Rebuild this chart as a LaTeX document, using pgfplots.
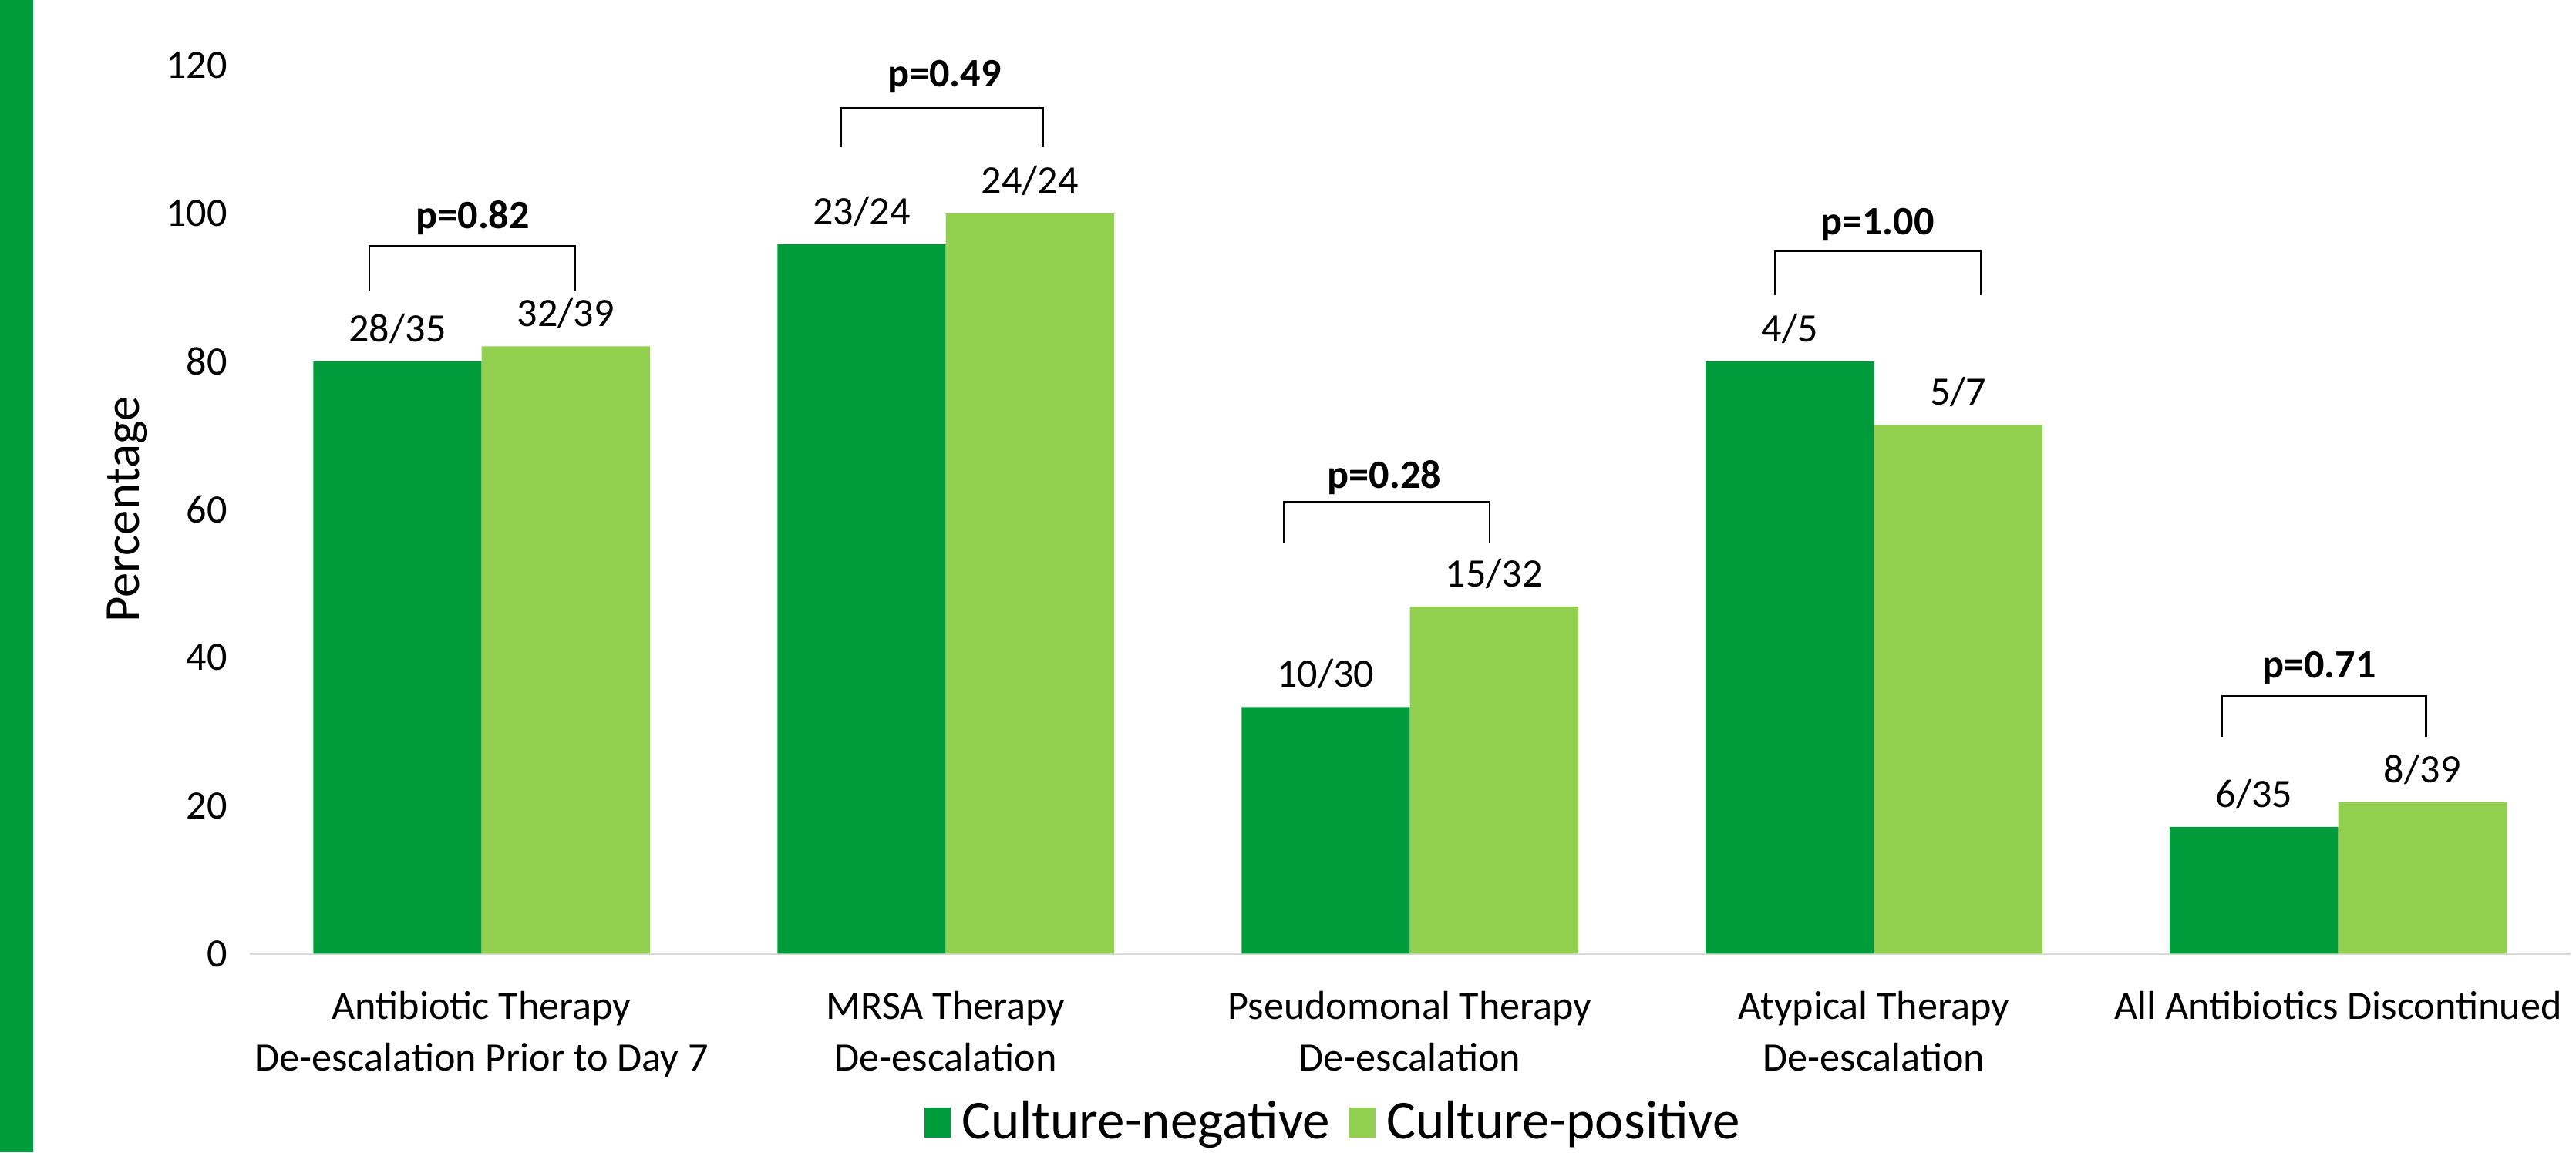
\documentclass[border=0pt]{standalone}
\usepackage{pgfplots}
\pgfplotsset{compat=1.18}
\usepackage{fontspec}
\setmainfont{Carlito}
\definecolor{darkg}{RGB}{0,156,59}
\definecolor{lightg}{RGB}{146,208,80}
\newcommand{\tfont}{\fontsize{12.5}{16}\selectfont}
\begin{document}
\begin{tikzpicture}
\fill[darkg] (0,0) rectangle (10.2pt,358pt);
\begin{axis}[
  at={(77.5pt,61.7pt)}, anchor=south west,
  scale only axis, width=720.7pt, height=276pt,
  xmin=-0.5, xmax=4.5, ymin=0, ymax=120,
  ybar=0pt, bar width=0.3627,
  axis line style={draw=none}, major tick style={draw=none},
  ytick={0,20,...,120},
  xtick={0,1,2,3,4},
  xticklabels={{Antibiotic Therapy\\De-escalation Prior to Day 7},{MRSA Therapy\\De-escalation},{Pseudomonal Therapy\\De-escalation},{Atypical Therapy\\De-escalation},{All Antibiotics Discontinued}},
  x tick label style={align=center, font=\tfont, yshift=-4pt},
  y tick label style={font=\tfont, xshift=-3.4pt},
  /pgf/number format/assume math mode=true,
  ylabel={Percentage},
  every axis y label/.style={at={(axis description cs:-0.0527,0.5)}, rotate=90, anchor=center, font=\fontsize{15.5}{18}\selectfont},
  nodes near coords, point meta=explicit symbolic,
  every node near coord/.append style={font=\tfont, text=black, yshift=2pt},
  clip=false,
  legend columns=2,
  legend style={at={(0.468,-0.19)}, anchor=center, draw=none, font=\fontsize{17}{19}\selectfont, /tikz/every even column/.append style={column sep=4pt}},
  legend image code/.code={\fill[#1] (0pt,-4.6pt) rectangle (8pt,4.6pt); \path (9.5pt,0pt);},
]
\draw[black!15, line width=0.6pt] (axis cs:-0.5,0) -- (axis cs:4.5,0);
\addplot[fill=darkg, draw=none] coordinates {(0,80) [28/35] (1,95.83) [23/24] (2,33.33) [10/30] (3,80) [4/5] (4,17.14) [6/35]};
\addlegendentry{Culture-negative}
\addplot[fill=lightg, draw=none] coordinates {(0,82.05) [32/39] (1,100) [24/24] (2,46.88) [15/32] (3,71.43) [5/7] (4,20.51) [8/39]};
\addlegendentry{Culture-positive}
\draw[black, line width=0.6pt] (axis cs:-0.242,89.6) -- (axis cs:-0.242,95.6) -- (axis cs:0.2006,95.6) -- (axis cs:0.2006,89.6);
\node[font=\bfseries\tfont] at (axis cs:-0.019,99.4) {p=0.82};
\draw[black, line width=0.6pt] (axis cs:0.774,108.9) -- (axis cs:0.774,114.2) -- (axis cs:1.209,114.2) -- (axis cs:1.209,108.9);
\node[font=\bfseries\tfont] at (axis cs:0.997,118.5) {p=0.49};
\draw[black, line width=0.6pt] (axis cs:1.729,55.5) -- (axis cs:1.729,61.0) -- (axis cs:2.172,61.0) -- (axis cs:2.172,55.5);
\node[font=\bfseries\tfont] at (axis cs:1.945,64.3) {p=0.28};
\draw[black, line width=0.6pt] (axis cs:2.787,89.0) -- (axis cs:2.787,94.9) -- (axis cs:3.230,94.9) -- (axis cs:3.230,89.0);
\node[font=\bfseries\tfont] at (axis cs:3.007,98.5) {p=1.00};
\draw[black, line width=0.6pt] (axis cs:3.750,29.3) -- (axis cs:3.750,34.8) -- (axis cs:4.189,34.8) -- (axis cs:4.189,29.3);
\node[font=\bfseries\tfont] at (axis cs:3.959,38.6) {p=0.71};
\end{axis}
\pgfresetboundingbox
\path[use as bounding box] (0,0) rectangle (800pt,358pt);
\end{tikzpicture}
\end{document}
